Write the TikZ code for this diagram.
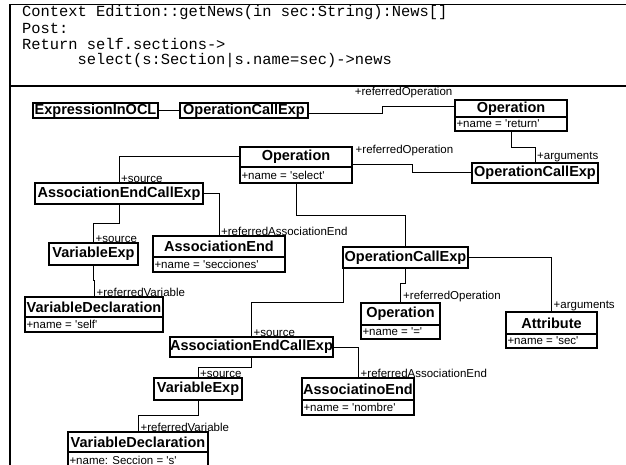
\documentclass[tikz,border=0pt]{standalone}
\usepackage{fontspec}
\newfontfamily\arialfont{Liberation Sans}
\newfontfamily\codefont{Liberation Mono}
\usetikzlibrary{calc}

\tikzset{
  frame/.style={line width=1.8pt, black},
  hdr/.style={draw, line width=1.3pt, font=\arialfont\fontsize{14.5}{16}\selectfont\bfseries,
              inner sep=0pt, outer sep=0pt, anchor=north west},
  att/.style={draw, line width=1.3pt, font=\arialfont\fontsize{11.5}{12}\selectfont,
              inner xsep=1.5pt, inner ysep=0pt, outer sep=0pt, anchor=north west},
  link/.style={line width=1pt},
  role/.style={font=\arialfont\fontsize{11.5}{12}\selectfont, inner sep=0.5pt, anchor=south west},
  codeline/.style={font=\codefont\fontsize{15.4}{16}\selectfont, inner sep=0pt, anchor=base west},
}

% box with a name compartment only: name, x, y, width, height, title
\newcommand{\plainbox}[6]{%
  \node[hdr, minimum width=#4pt, minimum height=#5pt] (#1) at (#2,#3) {#6};}
% box with name and attribute compartments: name, x, y, width, h1, h2, title, attribute
\newcommand{\classbox}[8]{%
  \node[hdr, minimum width=#4pt, minimum height=#5pt] (#1) at (#2,#3) {#7};
  \node[att, minimum width=#4pt, minimum height=#6pt] (#1-a) at (#1.south west)
       {\makebox[\dimexpr#4pt-3pt\relax][l]{#8}};}

\begin{document}
\begin{tikzpicture}[x=1pt,y=-1pt]
\useasboundingbox (0,0) rectangle (626,465);
\clip (0,0) rectangle (626,465);
\fill[white] (0,0) rectangle (626,465);

% frame around the constraint and the instance tree
\draw[frame] (627,4.5) -- (10,4.5) -- (10,470);
\draw[frame] (10,85.7) -- (627,85.7);

% OCL text
\node[codeline] (c1) at (22,17) {Context Edition::getNews(in sec:String):News[]};
\node[codeline] (c2) at (22,33.3) {Post:};
\node[codeline] (c3) at (22,49.2) {Return self.sections->};
\node[codeline] (c4) at (77.4,65) {select(s:Section|s.name=sec)->news};

% instances
\plainbox{expr}{33}{103}{125}{15}{ExpressionInOCL}
\plainbox{oce1}{180}{103}{128}{15}{OperationCallExp}
\classbox{opret}{455}{100}{112}{17}{14}{Operation}{+name = 'return'}
\plainbox{oce2}{472}{163}{126}{20}{OperationCallExp}
\classbox{opsel}{240}{147}{112}{20}{16}{Operation}{+name = 'select'}
\plainbox{aece1}{35}{183}{168}{21}{AssociationEndCallExp}
\classbox{ae1}{153}{236}{132}{21}{15}{AssociationEnd}{+name = 'secciones'}
\plainbox{ve1}{49}{243}{89}{22}{VariableExp}
\classbox{vd1}{25}{297}{138}{20}{15}{VariableDeclaration}{+name = 'self'}
\plainbox{oce3}{343}{247}{125}{21}{OperationCallExp}
\classbox{opeq}{361}{303}{79}{22}{14}{Operation}{+name = '='}
\classbox{attr}{506}{312}{91}{22}{14}{Attribute}{+name = 'sec'}
\plainbox{aece2}{170}{337}{163}{20}{AssociationEndCallExp}
\classbox{ae2}{302}{378}{112}{22}{15}{AssociatinoEnd}{+name = 'nombre'}
\plainbox{ve2}{154}{378}{88}{22}{VariableExp}
\classbox{vd2}{68}{432}{140}{20}{16}{VariableDeclaration}{+name: Seccion = 's'}

% links
\draw[link] (expr.east) -- (oce1.west);
\draw[link] ([yshift=-3pt]oce1.east) -- ++(74,0) |- ([yshift=1.5pt]opret.west);
\node[role, anchor=south east] (l1) at ($(opret.north west)+(-2,-1.5)$) {+referredOperation};

\draw[link] (opret-a.south) -- ++(0,17) -| (oce2.north);
\node[role] (l2) at ([xshift=1.5pt]oce2.north) {+arguments};

\draw[link] ([yshift=-8pt]opsel.east) -- ++(60,0) |- (oce2.west);
\node[role] (l3) at ($(opsel.north east)+(3,9.5)$) {+referredOperation};

\draw[link] (opsel.west) -| (aece1.north);
\node[role] (l4) at ([xshift=1.5pt]aece1.north) {+source};

\draw[link] (aece1.east) -| (ae1.north);
\node[role] (l5) at ([xshift=1.5pt]ae1.north) {+referredAssociationEnd};

\draw[link] (aece1.south) -- ++(0,19) -| (ve1.north);
\node[role] (l6) at ([xshift=1.5pt]ve1.north) {+source};

\draw[link] (ve1.south) -- ++(0,15) -| (vd1.north);
\node[role] (l7) at ([xshift=2pt]vd1.north) {+referredVariable};

\draw[link] (opsel-a.south) -- ++(0,32) -| (oce3.north);

\draw[link] (oce3.east) -| (attr.north);
\node[role] (l8) at ([xshift=1.5pt]attr.north) {+arguments};

\draw[link] (oce3.south) -- ++(0,15) -| (opeq.north);
\node[role] (l9) at ([xshift=2pt]opeq.north) {+referredOperation};

\draw[link] (oce3.south west) -- ++(0,34) -| (aece2.north);
\node[role] (l10) at ([xshift=1.5pt]aece2.north) {+source};

\draw[link] (aece2.east) -| (ae2.north);
\node[role] (l11) at ([xshift=2pt]ae2.north) {+referredAssociationEnd};

\draw[link] (aece2.south) -- ++(0,10) -| (ve2.north);
\node[role] (l12) at ([xshift=1.5pt]ve2.north) {+source};

\draw[link] (ve2.south) -- ++(0,15) -| (vd2.north);
\node[role] (l13) at ([xshift=2pt]vd2.north) {+referredVariable};
\end{tikzpicture}
\end{document}
